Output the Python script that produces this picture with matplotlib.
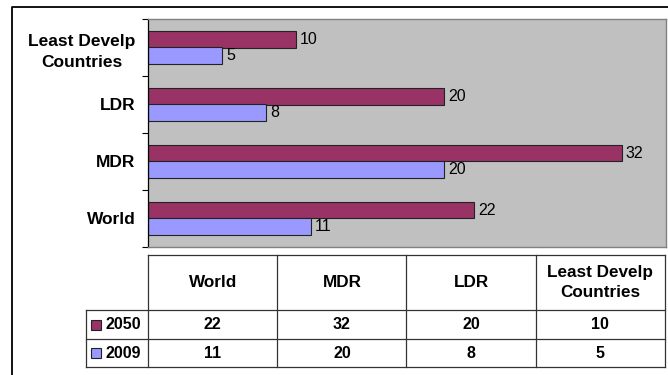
import matplotlib
matplotlib.use("Agg")
import matplotlib.pyplot as plt
from matplotlib.lines import Line2D
from matplotlib.patches import Rectangle

categories = ["World", "MDR", "LDR", "Least Develp\nCountries"]
series_names = ["2050", "2009"]
values_2050 = [22, 32, 20, 10]
values_2009 = [11, 20, 8, 5]
colors = {"2050": "#993366", "2009": "#9999FF"}

plt.rcParams['font.family'] = ['Liberation Sans', 'DejaVu Sans']

W, H = 668, 375
fig = plt.figure(figsize=(W / 100, H / 100), dpi=100)
fig.patch.set_facecolor("white")

def fx(px):
    return px / W

def fy(py):
    return 1 - py / H

# outer frame (left and top)
fig.add_artist(Line2D([fx(12), fx(12), fx(668)], [fy(375), fy(7), fy(7)],
                      color="black", lw=1.3, transform=fig.transFigure))

# plot area
L, R, T, B = 148, 666, 19, 247
ax = fig.add_axes([fx(L), fy(B), fx(R) - fx(L), (B - T) / H])
ax.set_facecolor("#C0C0C0")
ax.set_xlim(0, 35)
ax.set_ylim(-0.5, 3.5)

bh = 0.29
y = list(range(len(categories)))
b1 = ax.barh([v + bh / 2 for v in y], values_2050, height=bh,
             color=colors["2050"], edgecolor="#222222", linewidth=0.8)
b2 = ax.barh([v - bh / 2 for v in y], values_2009, height=bh,
             color=colors["2009"], edgecolor="#222222", linewidth=0.8)
for bars, vals in ((b1, values_2050), (b2, values_2009)):
    for bar, v in zip(bars, vals):
        ax.annotate(str(v), (v, bar.get_y() + bar.get_height() / 2),
                    xytext=(3, 0), textcoords="offset points",
                    ha="left", va="center", fontsize=11.5, color="black")

ax.set_xticks([])
ax.set_yticks([-0.5, 0.5, 1.5, 2.5, 3.5])
ax.set_yticklabels([])
ax.tick_params(axis="y", which="major", length=4.3, width=0.8, color="black", direction="out")
ax.set_yticks(y, minor=True)
ax.set_yticklabels(categories, minor=True, fontsize=12.5, fontweight="bold",
                   multialignment="center", linespacing=1.5)
ax.tick_params(axis="y", which="minor", length=0, pad=9)
for s in ("top", "right", "bottom"):
    ax.spines[s].set_color("#808080")
    ax.spines[s].set_linewidth(1.0)
ax.spines["left"].set_color("black")
ax.spines["left"].set_linewidth(0.9)

# data table below
cols = [148, 277.25, 406.5, 535.75, 665]
rows = [255, 310, 339, 367]
lab_left = 86
lc = "#333333"
lw = 0.9

def hline(x0, x1, yy):
    fig.add_artist(Line2D([fx(x0), fx(x1)], [fy(yy), fy(yy)], color=lc, lw=lw,
                          transform=fig.transFigure))

def vline(xx, y0, y1):
    fig.add_artist(Line2D([fx(xx), fx(xx)], [fy(y0), fy(y1)], color=lc, lw=lw,
                          transform=fig.transFigure))

hline(cols[0], cols[-1], rows[0])
for yy in rows[1:]:
    hline(lab_left, cols[-1], yy)
for xx in cols:
    vline(xx, rows[0], rows[-1])
vline(lab_left, rows[1], rows[-1])

for i, cat in enumerate(categories):
    cx = (cols[i] + cols[i + 1]) / 2
    fig.text(fx(cx), fy((rows[0] + rows[1]) / 2), cat, ha="center", va="center",
             fontsize=12.3, fontweight="bold", multialignment="center",
             linespacing=1.4)

for r, (name, vals) in enumerate(((series_names[0], values_2050),
                                  (series_names[1], values_2009))):
    cy = (rows[r + 1] + rows[r + 2]) / 2
    fig.add_artist(Rectangle((fx(91), fy(cy + 5)), 10 / W, 10 / H,
                             facecolor=colors[name], edgecolor="#222222", lw=0.8,
                             transform=fig.transFigure))
    fig.text(fx(106), fy(cy), name, ha="left", va="center", fontsize=11.5,
             fontweight="bold")
    for i, v in enumerate(vals):
        cx = (cols[i] + cols[i + 1]) / 2
        fig.text(fx(cx), fy(cy), str(v), ha="center", va="center", fontsize=11.5,
                 fontweight="bold")

fig.savefig("out.png", dpi=100)
